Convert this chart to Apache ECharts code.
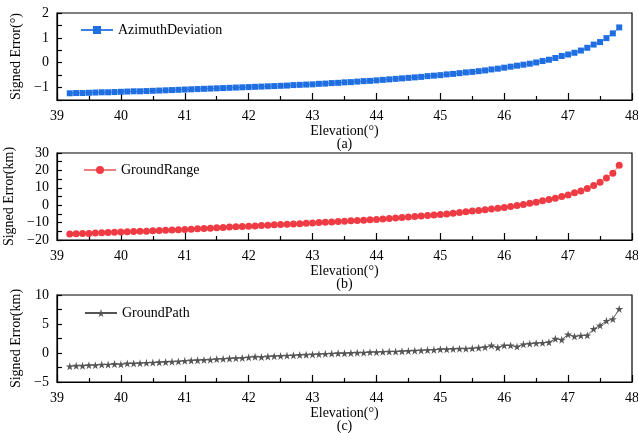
<!DOCTYPE html>
<html>
<head>
<meta charset="utf-8">
<script src="https://cdn.jsdelivr.net/npm/echarts@6/dist/echarts.min.js"></script>
<style>
  html, body { margin: 0; padding: 0; background: #fff; }
  #chart { width: 638px; height: 433px; }
</style>
</head>
<body>
<div id="chart"></div>
<script>
// Elevation samples (degrees)
const elevation = [
  39.2, 39.3, 39.4, 39.5, 39.6, 39.7, 39.8, 39.9, 40.0, 40.1,
  40.2, 40.3, 40.4, 40.5, 40.6, 40.7, 40.8, 40.9, 41.0, 41.1,
  41.2, 41.3, 41.4, 41.5, 41.6, 41.7, 41.8, 41.9, 42.0, 42.1,
  42.2, 42.3, 42.4, 42.5, 42.6, 42.7, 42.8, 42.9, 43.0, 43.1,
  43.2, 43.3, 43.4, 43.5, 43.6, 43.7, 43.8, 43.9, 44.0, 44.1,
  44.2, 44.3, 44.4, 44.5, 44.6, 44.7, 44.8, 44.9, 45.0, 45.1,
  45.2, 45.3, 45.4, 45.5, 45.6, 45.7, 45.8, 45.9, 46.0, 46.1,
  46.2, 46.3, 46.4, 46.5, 46.6, 46.7, 46.8, 46.9, 47.0, 47.1,
  47.2, 47.3, 47.4, 47.5, 47.6, 47.7, 47.8
];

// Azimuth deviation signed error (degrees)
const azimuthDeviation = [
  -1.23, -1.22, -1.22, -1.21, -1.20, -1.19, -1.19, -1.18, -1.17, -1.16,
  -1.15, -1.15, -1.14, -1.13, -1.12, -1.11, -1.10, -1.09, -1.08, -1.07,
  -1.06, -1.05, -1.04, -1.03, -1.02, -1.01, -1.00, -0.99, -0.98, -0.97,
  -0.96, -0.95, -0.94, -0.93, -0.92, -0.90, -0.89, -0.88, -0.87, -0.85,
  -0.84, -0.82, -0.81, -0.79, -0.78, -0.76, -0.74, -0.73, -0.71, -0.69,
  -0.67, -0.65, -0.63, -0.61, -0.59, -0.57, -0.54, -0.52, -0.50, -0.47,
  -0.45, -0.42, -0.39, -0.37, -0.34, -0.31, -0.27, -0.24, -0.20, -0.16,
  -0.12, -0.08, -0.04, 0.01, 0.07, 0.12, 0.19, 0.27, 0.33, 0.40,
  0.49, 0.60, 0.73, 0.83, 0.99, 1.18, 1.42
];

// Ground range signed error (km)
const groundRange = [
  -16.6, -16.4, -16.3, -16.2, -16.0, -15.9, -15.7, -15.6, -15.4, -15.3,
  -15.1, -15.0, -14.9, -14.7, -14.6, -14.4, -14.3, -14.1, -14.0, -13.8,
  -13.6, -13.4, -13.2, -13.0, -12.8, -12.6, -12.4, -12.2, -12.1, -11.9,
  -11.7, -11.5, -11.3, -11.1, -10.9, -10.8, -10.6, -10.4, -10.2, -10.0,
  -9.8, -9.6, -9.4, -9.2, -9.0, -8.8, -8.6, -8.4, -8.2, -7.9,
  -7.6, -7.4, -7.1, -6.8, -6.5, -6.2, -5.9, -5.6, -5.4, -5.0,
  -4.6, -4.2, -3.8, -3.4, -3.0, -2.6, -2.2, -1.8, -1.3, -0.7,
  -0.2, 0.4, 1.1, 1.7, 2.5, 3.3, 4.0, 5.0, 5.9, 7.1,
  8.2, 9.6, 11.3, 13.2, 15.7, 18.4, 23.0
];

// Ground path signed error (km)
const groundPath = [
  -2.3, -2.2, -2.2, -2.1, -2.1, -2.0, -2.0, -1.9, -1.95, -1.8,
  -1.8, -1.75, -1.7, -1.65, -1.6, -1.55, -1.5, -1.45, -1.35, -1.3,
  -1.25, -1.2, -1.15, -1.05, -1.0, -0.95, -0.9, -0.85, -0.75, -0.65,
  -0.7, -0.6, -0.55, -0.5, -0.45, -0.4, -0.35, -0.3, -0.25, -0.2,
  -0.15, -0.1, -0.05, -0.05, 0.0, 0.05, 0.05, 0.15, 0.15, 0.2,
  0.25, 0.25, 0.3, 0.35, 0.4, 0.45, 0.5, 0.55, 0.65, 0.65,
  0.7, 0.75, 0.75, 0.8, 0.9, 1.0, 1.3, 0.95, 1.3, 1.3,
  1.1, 1.5, 1.6, 1.7, 1.75, 1.85, 2.45, 2.3, 3.2, 2.85,
  3.0, 3.05, 4.15, 4.75, 5.55, 5.85, 7.6
];

// Axis ranges: [min, max, tick step, labelled step]
const yRanges = [
  [-1.5, 2, 0.5, 1],
  [-20, 30, 5, 10],
  [-5, 10, 2.5, 5]
];
const xRange = [39, 48, 1];
const yNames = ['Signed Error(°)', 'Signed Error(km)', 'Signed Error(km)'];
const panelTags = ['(a)', '(b)', '(c)'];
const seriesNames = ['AzimuthDeviation', 'GroundRange', 'GroundPath'];

const FONT = '"Liberation Serif", "Times New Roman", serif';
const pair = vals => elevation.map((x, i) => [x, vals[i]]);
const fmt = v => (v < 0 ? '\u2212' + Math.abs(v) : String(v));

const grids = [
  { left: 57, right: 6, top: 13, height: 87 },
  { left: 57, right: 6, top: 153, height: 87 },
  { left: 57, right: 6, top: 295, height: 87 }
].map(g => Object.assign(g, {
  show: true, borderColor: '#000', borderWidth: 1.2,
  backgroundColor: 'transparent', containLabel: false, outerBoundsMode: 'none'
}));

const xAxes = panelTags.map((tag, i) => ({
  type: 'value', gridIndex: i,
  min: xRange[0], max: xRange[1], interval: xRange[2],
  name: 'Elevation(°)\n' + tag,
  nameLocation: 'middle', nameGap: 21,
  nameTextStyle: { fontFamily: FONT, fontSize: 14, color: '#000', lineHeight: 13.5 },
  axisLine: { show: true, onZero: false, lineStyle: { color: '#000', width: 1.2 } },
  axisTick: { show: true, inside: true, length: 7, lineStyle: { color: '#000', width: 1.2 } },
  minorTick: { show: true, splitNumber: 2, length: 4, lineStyle: { color: '#000', width: 1.2 } },
  axisLabel: { fontFamily: FONT, fontSize: 14, color: '#000', margin: 9 },
  splitLine: { show: false }
}));

const yAxes = yRanges.map((r, i) => ({
  type: 'value', gridIndex: i,
  min: r[0], max: r[1], interval: r[2],
  name: yNames[i],
  nameLocation: 'middle', nameGap: 32,
  nameTextStyle: { fontFamily: FONT, fontSize: 14, color: '#000' },
  axisLine: { show: true, onZero: false, lineStyle: { color: '#000', width: 1.2 } },
  axisTick: { show: true, inside: true, length: 5, lineStyle: { color: '#000', width: 1.2 } },
  axisLabel: {
    fontFamily: FONT, fontSize: 14, color: '#000', margin: 8,
    formatter: v => (Math.abs(v / r[3] - Math.round(v / r[3])) < 1e-9 ? fmt(v) : '')
  },
  splitLine: { show: false }
}));

const colors = ['#1f6fe3', '#ef3b44', '#555555'];
const lineColors = ['#3b7fe6', '#f27b80', '#555555'];
const symbols = ['rect', 'circle', 'path://M50,0 L61,35 L98,35 L68,57 L79,91 L50,70 L21,91 L32,57 L2,35 L39,35 Z'];
const symbolSizes = [6, 7, 8];
const seriesVals = [azimuthDeviation, groundRange, groundPath];

const series = seriesVals.map((vals, i) => ({
  type: 'line', name: seriesNames[i],
  xAxisIndex: i, yAxisIndex: i,
  data: pair(vals),
  symbol: symbols[i], symbolSize: symbolSizes[i], showSymbol: true,
  itemStyle: { color: colors[i] },
  lineStyle: { color: lineColors[i], width: 1 },
  animation: false
}));

const legendPos = [
  { left: 75, top: 18 },
  { left: 78, top: 158 },
  { left: 79, top: 301 }
];
const legends = seriesNames.map((n, i) => ({
  data: [n], left: legendPos[i].left, top: legendPos[i].top,
  itemWidth: 32, itemHeight: 10, itemGap: 5,
  itemStyle: { borderWidth: 0 },
  textStyle: { fontFamily: FONT, fontSize: 14, color: '#000' }
}));

const chart = echarts.init(document.getElementById('chart'), null, { renderer: 'canvas' });
chart.setOption({
  backgroundColor: '#fff',
  animation: false,
  grid: grids,
  xAxis: xAxes,
  yAxis: yAxes,
  legend: legends,
  series: series
});
</script>
</body>
</html>
